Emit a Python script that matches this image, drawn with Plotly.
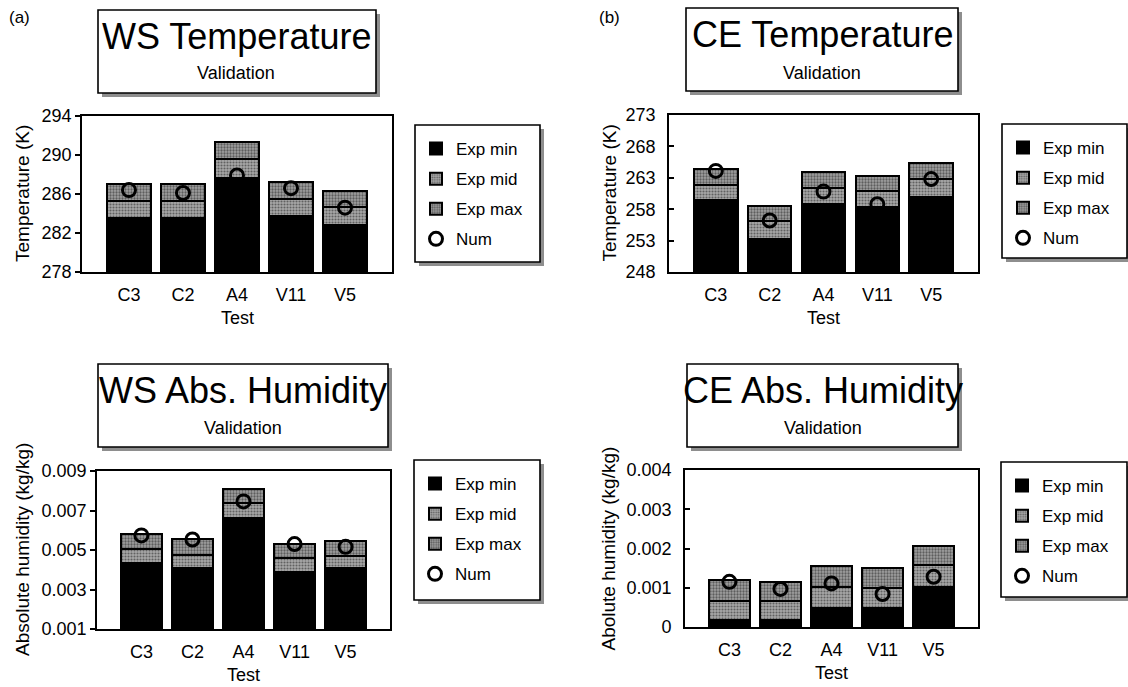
import plotly.graph_objects as go

W, H = 1128, 687

# ---- data -------------------------------------------------------------
tests = ["C3", "C2", "A4", "V11", "V5"]

ws_temp_min = [283.5, 283.5, 287.6, 283.7, 282.8]
ws_temp_mid = [285.3, 285.3, 289.6, 285.5, 284.7]
ws_temp_max = [287.0, 287.0, 291.3, 287.2, 286.3]
ws_temp_num = [286.4, 286.1, 287.9, 286.6, 284.6]

ce_temp_min = [259.4, 253.3, 258.9, 258.4, 260.0]
ce_temp_mid = [261.9, 256.1, 261.3, 260.9, 262.8]
ce_temp_max = [264.4, 258.5, 263.9, 263.3, 265.3]
ce_temp_num = [264.1, 256.2, 260.8, 258.8, 262.8]

ws_hum_min = [0.00436, 0.00407, 0.00664, 0.00390, 0.00410]
ws_hum_mid = [0.00504, 0.00475, 0.00736, 0.00458, 0.00470]
ws_hum_max = [0.00580, 0.00554, 0.00809, 0.00528, 0.00545]
ws_hum_num = [0.00574, 0.00553, 0.00746, 0.00530, 0.00516]

ce_hum_min = [0.00018, 0.00018, 0.00048, 0.00048, 0.00103]
ce_hum_mid = [0.00067, 0.00066, 0.00103, 0.00099, 0.00158]
ce_hum_max = [0.00120, 0.00114, 0.00155, 0.00151, 0.00206]
ce_hum_num = [0.00115, 0.00097, 0.00111, 0.00084, 0.00128]

FONT = "Liberation Sans, Arial, Helvetica, sans-serif"


def px(x):
    return x / W


def py(y):
    return 1 - y / H


GREY_PATTERN = dict(shape=".", fgcolor="#1a1a1a", bgcolor="#a8a8a8",
                    size=3, solidity=0.4)
GREY_PATTERN2 = dict(shape=".", fgcolor="#1a1a1a", bgcolor="#a0a0a0",
                     size=3, solidity=0.45)

panels = [
    dict(ax="", leg="legend", lo=ws_temp_min, mid=ws_temp_mid, hi=ws_temp_max, num=ws_temp_num,
         xd=(82, 392), yd=(116, 272), yr=[278, 294], tv=[278, 282, 286, 290, 294],
         tt=None, tdir="outside", yt="Temperature (K)", ytx=22,
         title="WS Temperature", box=(98, 10, 376, 93), tx=236, ty=36, vy=73,
         legbox=(415, 125, 540, 262)),
    dict(ax="2", leg="legend2", lo=ce_temp_min, mid=ce_temp_mid, hi=ce_temp_max, num=ce_temp_num,
         xd=(669, 978), yd=(115, 272), yr=[248, 273], tv=[248, 253, 258, 263, 268, 273],
         tt=None, tdir="inside", yt="Temperature (K)", ytx=609,
         title="CE Temperature", box=(686, 8, 958, 91), tx=822, ty=35, vy=73,
         legbox=(1002, 124, 1127, 258)),
    dict(ax="3", leg="legend3", lo=ws_hum_min, mid=ws_hum_mid, hi=ws_hum_max, num=ws_hum_num,
         xd=(97, 390), yd=(471, 629), yr=[0.001, 0.009], tv=[0.001, 0.003, 0.005, 0.007, 0.009],
         tt=["0.001", "0.003", "0.005", "0.007", "0.009"], tdir="outside",
         yt="Absolute humidity (kg/kg)", ytx=22,
         title="WS Abs. Humidity", box=(98, 364, 388, 447), tx=243, ty=390, vy=428,
         legbox=(414, 460, 540, 600)),
    dict(ax="4", leg="legend4", lo=ce_hum_min, mid=ce_hum_mid, hi=ce_hum_max, num=ce_hum_num,
         xd=(685, 978), yd=(470, 627), yr=[0, 0.004], tv=[0, 0.001, 0.002, 0.003, 0.004],
         tt=["0", "0.001", "0.002", "0.003", "0.004"], tdir="inside",
         yt="Abolute humidity (kg/kg)", ytx=608,
         title="CE Abs. Humidity", box=(687, 364, 958, 447), tx=823, ty=390, vy=428,
         legbox=(1001, 462, 1127, 597)),
]

fig = go.Figure()
shapes = []
annotations = []
layout = {}

for p in panels:
    xa, ya = "x" + p["ax"], "y" + p["ax"]
    seg_mid = [m - l for m, l in zip(p["mid"], p["lo"])]
    seg_max = [h - m for h, m in zip(p["hi"], p["mid"])]
    common = dict(xaxis=xa, yaxis=ya, legend=p["leg"], width=0.81)
    fig.add_trace(go.Bar(x=tests, y=p["lo"], name="Exp min", legendgroup="a" + p["ax"],
                         marker=dict(color="black", line=dict(color="black", width=2)),
                         **common))
    fig.add_trace(go.Bar(x=tests, y=seg_mid, name="Exp mid", legendgroup="b" + p["ax"],
                         marker=dict(color="#a8a8a8", pattern=GREY_PATTERN,
                                     line=dict(color="black", width=2)),
                         **common))
    fig.add_trace(go.Bar(x=tests, y=seg_max, name="Exp max", legendgroup="c" + p["ax"],
                         marker=dict(color="#a0a0a0", pattern=GREY_PATTERN2,
                                     line=dict(color="black", width=2)),
                         **common))
    fig.add_trace(go.Scatter(x=tests, y=p["num"], name="Num", mode="markers",
                             legendgroup="d" + p["ax"], xaxis=xa, yaxis=ya, legend=p["leg"],
                             marker=dict(symbol="circle-open", size=13, color="black",
                                         line=dict(width=3, color="black"))))

    x0, x1 = p["xd"]
    y0, y1 = p["yd"]
    layout["xaxis" + p["ax"]] = dict(
        domain=[px(x0), px(x1)], anchor=ya, type="category", range=[-0.87, 4.87],
        showline=True, mirror=True, linecolor="black", linewidth=1.6,
        ticks="", ticklabelstandoff=6, showgrid=False, zeroline=False, automargin=False,
        tickfont=dict(family=FONT, size=18, color="black"), fixedrange=True)
    yax = dict(
        domain=[py(y1), py(y0)], anchor=xa, range=p["yr"], tickvals=p["tv"],
        showline=True, mirror=True, linecolor="black", linewidth=1.6,
        ticks=p["tdir"], ticklen=5, tickwidth=1.6, tickcolor="black",
        showgrid=False, zeroline=False, automargin=False,
        tickfont=dict(family=FONT, size=18, color="black"))
    if p["tt"] is not None:
        yax["ticktext"] = p["tt"]
    if p["tdir"] == "inside":
        yax["ticklabelstandoff"] = 8
    layout["yaxis" + p["ax"]] = yax

    # axis titles
    annotations.append(dict(text=p["yt"], x=px(p["ytx"]), y=py((y0 + y1) / 2),
                            xref="paper", yref="paper", textangle=-90, showarrow=False,
                            font=dict(family=FONT, size=19, color="black"),
                            xanchor="center", yanchor="middle"))
    annotations.append(dict(text="Test", x=px((x0 + x1) / 2), y=py(y1 + 46),
                            xref="paper", yref="paper", showarrow=False,
                            font=dict(family=FONT, size=18, color="black"),
                            xanchor="center", yanchor="middle"))

    # title box with drop shadow
    bx0, by0, bx1, by1 = p["box"]
    shapes.append(dict(type="rect", xref="paper", yref="paper",
                       x0=px(bx0 + 4), x1=px(bx1 + 4), y0=py(by1 + 4), y1=py(by0 + 4),
                       fillcolor="#8e8e8e", line=dict(width=0), layer="below"))
    shapes.append(dict(type="rect", xref="paper", yref="paper",
                       x0=px(bx0), x1=px(bx1), y0=py(by1), y1=py(by0),
                       fillcolor="white", line=dict(color="black", width=1.6), layer="below"))
    annotations.append(dict(text=p["title"], x=px(p["tx"]), y=py(p["ty"]),
                            xref="paper", yref="paper", showarrow=False,
                            font=dict(family=FONT, size=36, color="black"),
                            xanchor="center", yanchor="middle"))
    annotations.append(dict(text="Validation", x=px(p["tx"]), y=py(p["vy"]),
                            xref="paper", yref="paper", showarrow=False,
                            font=dict(family=FONT, size=18, color="black"),
                            xanchor="center", yanchor="middle"))

    # legend frame with drop shadow
    lx0, ly0, lx1, ly1 = p["legbox"]
    shapes.append(dict(type="rect", xref="paper", yref="paper",
                       x0=px(lx0 + 4), x1=px(lx1 + 4), y0=py(ly1 + 4), y1=py(ly0 + 4),
                       fillcolor="#8e8e8e", line=dict(width=0), layer="below"))
    shapes.append(dict(type="rect", xref="paper", yref="paper",
                       x0=px(lx0), x1=px(lx1), y0=py(ly1), y1=py(ly0),
                       fillcolor="white", line=dict(color="black", width=1.6), layer="below"))
    layout[p["leg"]] = dict(x=px(lx0 + 1), y=py(ly0 + 6), xanchor="left", yanchor="top",
                            bgcolor="rgba(0,0,0,0)", borderwidth=0,
                            font=dict(family=FONT, size=17, color="black"),
                            tracegroupgap=5, traceorder="grouped",
                            itemclick=False, itemdoubleclick=False)

annotations.append(dict(text="(a)", x=px(19), y=py(17), xref="paper", yref="paper",
                        showarrow=False, font=dict(family=FONT, size=17, color="black"),
                        xanchor="center", yanchor="middle"))
annotations.append(dict(text="(b)", x=px(609), y=py(17), xref="paper", yref="paper",
                        showarrow=False, font=dict(family=FONT, size=17, color="black"),
                        xanchor="center", yanchor="middle"))

fig.update_layout(
    width=W, height=H, margin=dict(l=0, r=0, t=0, b=0, autoexpand=False),
    paper_bgcolor="white", plot_bgcolor="white",
    barmode="stack", bargap=0.19,
    font=dict(family=FONT, color="black"),
    shapes=shapes, annotations=annotations,
    **layout,
)

fig.write_html("out.html")
